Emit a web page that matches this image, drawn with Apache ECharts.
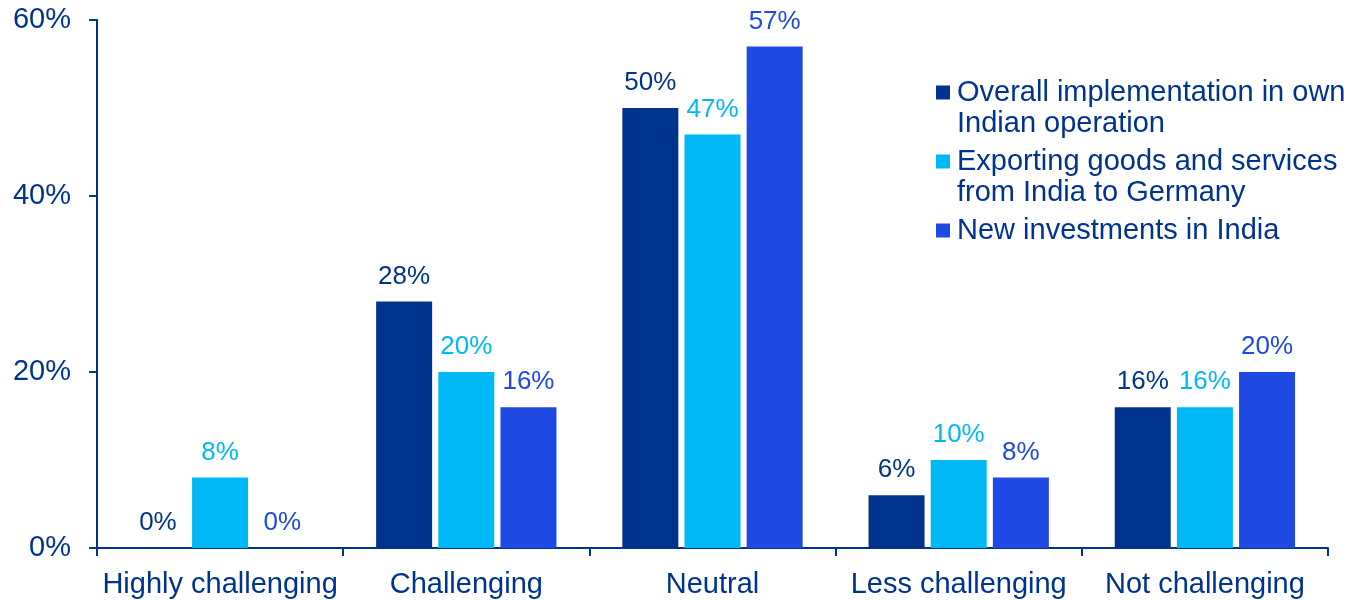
<!DOCTYPE html>
<html>
<head>
<meta charset="utf-8">
<script src="https://cdn.jsdelivr.net/npm/echarts@6/dist/echarts.min.js"></script>
<style>
  html, body { margin: 0; padding: 0; background: #fff; }
  #chart { width: 1352px; height: 600px; }
</style>
</head>
<body>
<div id="chart"></div>
<script>
// Survey categories and shares (%) per business activity
const categories = ['Highly challenging', 'Challenging', 'Neutral', 'Less challenging', 'Not challenging'];
const seriesNames = [
  'Overall implementation in own Indian operation',
  'Exporting goods and services from India to Germany',
  'New investments in India'
];
const legendLines = [
  ['Overall implementation in own', 'Indian operation'],
  ['Exporting goods and services', 'from India to Germany'],
  ['New investments in India']
];
const overallImplementation = [0, 28, 50, 6, 16];
const exportingGoods = [8, 20, 47, 10, 16];
const newInvestments = [0, 16, 57, 8, 20];
const yTicks = [0, 20, 40, 60];

const colors = ['#00338D', '#00B8F5', '#1E49E2'];
const textColor = '#00338D';
const fontFamily = '"Liberation Sans", Arial, sans-serif';

const values = [overallImplementation, exportingGoods, newInvestments];

// Legend entries: coloured square on the first line, wrapped text indented beneath
const rich = {
  s: { width: 7 },
  g: { width: 21 },
  t: { fontSize: 29, lineHeight: 31, color: textColor, fontFamily: fontFamily }
};
colors.forEach((c, i) => {
  rich['k' + i] = { width: 14, height: 14, backgroundColor: c };
});

const chart = echarts.init(document.getElementById('chart'));
chart.setOption({
  animation: false,
  textStyle: { fontFamily: fontFamily },
  grid: { left: 97, right: 24, top: 20, bottom: 52, containLabel: false },
  legend: {
    orient: 'vertical',
    left: 931,
    top: 77,
    padding: 0,
    itemGap: 7,
    itemWidth: 0,
    itemHeight: 14,
    selectedMode: false,
    data: seriesNames,
    formatter: function (name) {
      const i = seriesNames.indexOf(name);
      const lines = legendLines[i];
      let out = '{k' + i + '|}{s|}{t|' + lines[0] + '}';
      for (let j = 1; j < lines.length; j++) {
        out += '\n{g|}{t|' + lines[j] + '}';
      }
      return out;
    },
    textStyle: { rich: rich, fontSize: 29, lineHeight: 31, color: textColor }
  },
  xAxis: {
    type: 'category',
    data: categories,
    axisLine: { lineStyle: { color: textColor, width: 2 } },
    axisTick: { show: true, length: 8, alignWithLabel: false, lineStyle: { color: textColor, width: 2 } },
    axisLabel: { color: textColor, fontSize: 29, margin: 22, interval: 0, fontFamily: fontFamily }
  },
  yAxis: {
    type: 'value',
    min: yTicks[0],
    max: yTicks[yTicks.length - 1],
    interval: yTicks[1] - yTicks[0],
    splitLine: { show: false },
    axisLine: { show: true, lineStyle: { color: textColor, width: 2 } },
    axisTick: { show: true, length: 8, lineStyle: { color: textColor, width: 2 } },
    axisLabel: { color: textColor, fontSize: 29, margin: 26, formatter: '{value}%', fontFamily: fontFamily }
  },
  series: seriesNames.map((name, i) => ({
    name: name,
    type: 'bar',
    data: values[i],
    barWidth: 56,
    barGap: '11%',
    itemStyle: { color: colors[i] },
    label: {
      show: true,
      position: 'top',
      distance: 12,
      formatter: '{c}%',
      color: colors[i],
      fontSize: 26,
      fontFamily: fontFamily
    }
  }))
});
</script>
</body>
</html>
